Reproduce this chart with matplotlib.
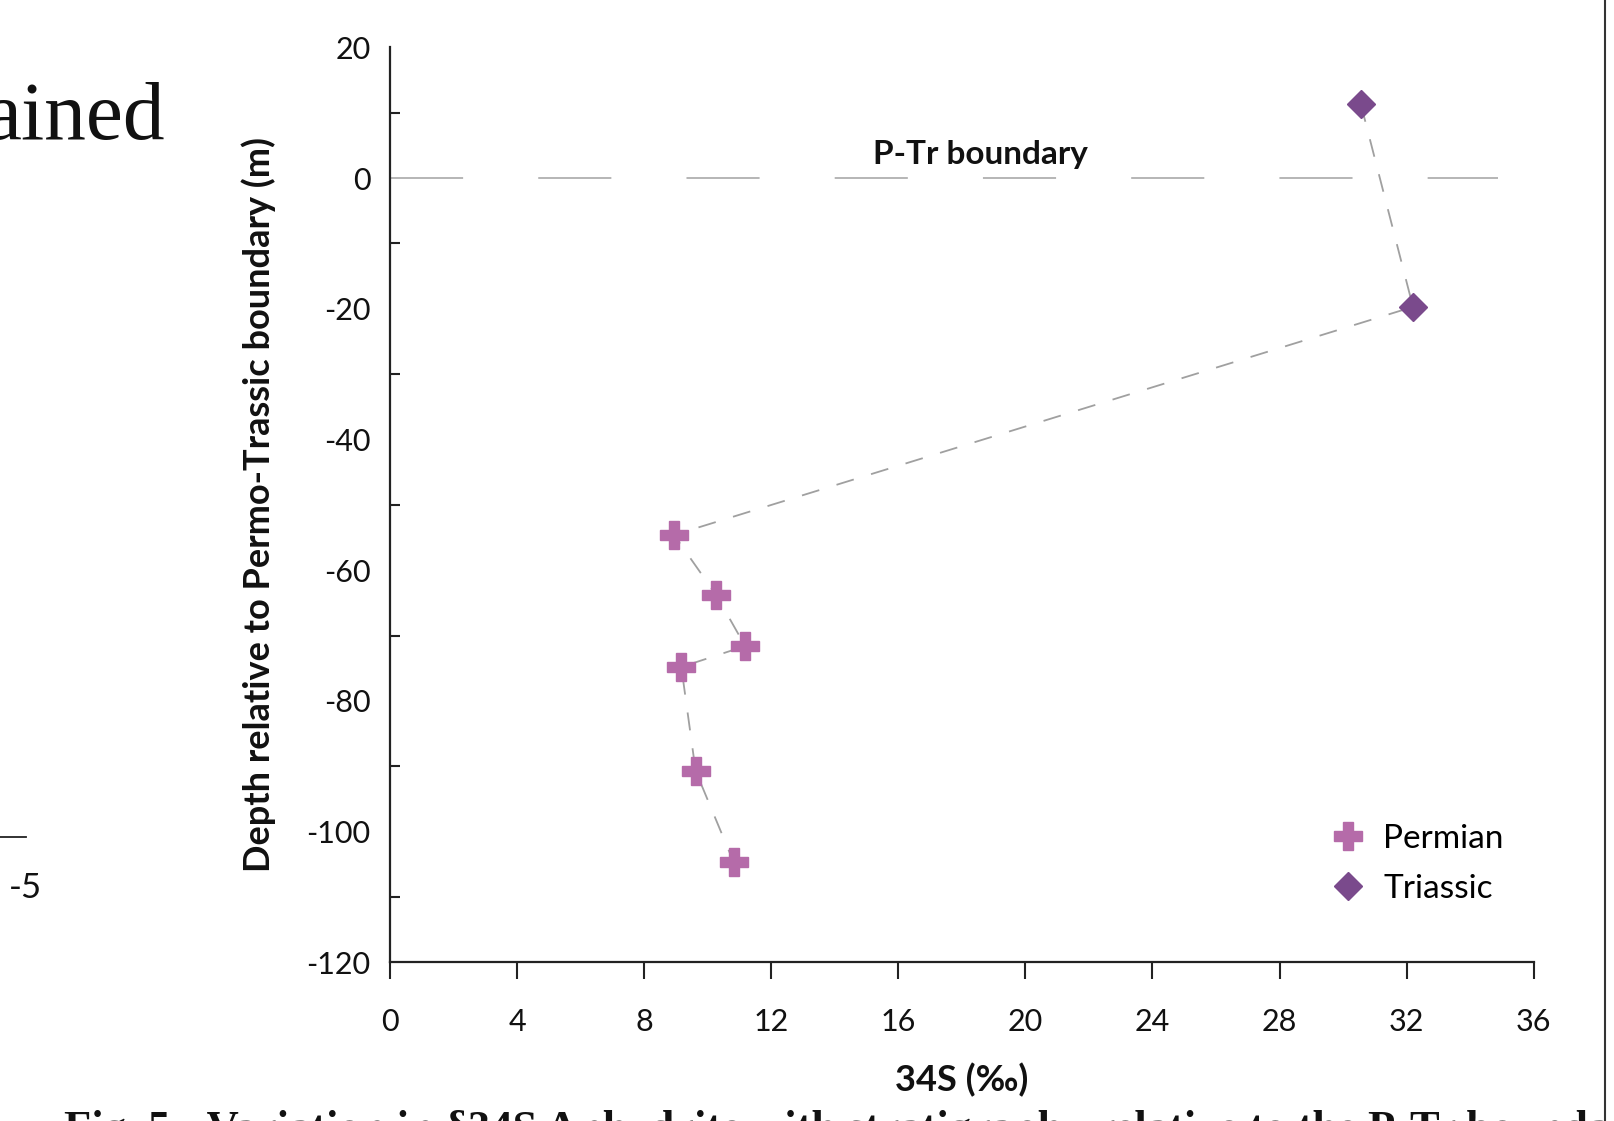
import matplotlib
matplotlib.use("Agg")
import matplotlib.pyplot as plt
from matplotlib.ticker import FixedLocator

plt.rcParams["axes.unicode_minus"] = False

# ---- data ----
permian_d34s = [8.94, 10.27, 11.18, 9.17, 9.62, 10.82]
permian_depth = [-54.6, -63.8, -71.6, -74.8, -90.7, -104.7]
triassic_d34s = [30.56, 32.2]
triassic_depth = [11.3, -19.7]
boundary_depth = 0
boundary_x = [0, 34.87]
x_ticks = [0, 4, 8, 12, 16, 20, 24, 28, 32, 36]
y_ticks = [-120, -100, -80, -60, -40, -20, 0, 20]

W, H = 1614, 1121
fig = plt.figure(figsize=(W / 100, H / 100), dpi=100)
fig.patch.set_facecolor("white")

FONT = "Lato"
ax = fig.add_axes([390 / W, 1 - 962.4 / H, (1533.7 - 390) / W, (962.4 - 47.4) / H])

# connecting line (Triassic top to Permian bottom)
line_x = triassic_d34s + permian_d34s
line_y = triassic_depth + permian_depth
ax.plot(line_x, line_y, color="#a0a0a0", lw=1.3, dashes=(10, 10), zorder=2)

# boundary line
bl, = ax.plot(boundary_x, [boundary_depth] * 2, color="#b0b0b0", lw=1.3, zorder=1)
bl.set_dashes((40.5, 41.6))
ax.text(18.57, 3.6, "P-Tr boundary", ha="center", va="center", fontsize=24,
        fontweight="bold", family=FONT, color="#111111")

ax.plot(permian_d34s, permian_depth, linestyle="none", marker="P", ms=20,
        color="#b56ba9", mec="#b56ba9", label="Permian", zorder=3)
ax.plot(triassic_d34s, triassic_depth, linestyle="none", marker="D", ms=14.5,
        color="#7a4a8c", mec="#7a4a8c", label="Triassic", zorder=3)

ax.set_xlim(0, 36)
ax.set_ylim(-120, 20)
ax.xaxis.set_major_locator(FixedLocator(x_ticks))
ax.yaxis.set_major_locator(FixedLocator(y_ticks))
ax.yaxis.set_minor_locator(FixedLocator([-110, -90, -70, -50, -30, -10, 10]))

for s in ["top", "right"]:
    ax.spines[s].set_visible(False)
for s in ["left", "bottom"]:
    ax.spines[s].set_color("#222222")
    ax.spines[s].set_linewidth(1.6)

ax.tick_params(axis="x", which="major", direction="out", length=12.5, width=1.5,
               color="#222222", labelsize=22, pad=20)
ax.tick_params(axis="y", which="major", length=0, labelsize=22, pad=14)
ax.tick_params(axis="y", which="minor", direction="in", length=7, width=1.5,
               color="#222222")
for lab in ax.get_xticklabels() + ax.get_yticklabels():
    lab.set_family(FONT)
    lab.set_color("#111111")

ax.set_xlabel("34S (‰)", fontsize=26, fontweight="bold", family=FONT,
              labelpad=20, color="#111111")
ax.set_ylabel("Depth relative to Permo-Trassic boundary (m)", fontsize=26,
              fontweight="bold", family=FONT, labelpad=22, color="#111111")

leg = ax.legend(loc="upper left", bbox_to_anchor=(1331 / W, 1 - 823.5 / H),
                bbox_transform=fig.transFigure, frameon=False,
                prop={"family": FONT, "size": 24}, handlelength=1.0,
                handletextpad=0.56, labelspacing=0.6, borderpad=0,
                borderaxespad=0)

# fragments of the surrounding page
fig.text(165 / W, 1 - 139 / H, "ained", ha="right", va="baseline",
         family="Liberation Serif", fontsize=60, color="#111111")
fig.add_artist(plt.Line2D([0, 26 / W], [1 - 837 / H] * 2, color="#222222",
                          lw=1.3, transform=fig.transFigure))
fig.text(25 / W, 1 - 888 / H, "-5", ha="center", va="center",
         family=FONT, fontsize=25, color="#111111")
fig.text(64 / W, 1 - 1110 / H,
         "Fig. 5 - Variation in δ34S Anhydrite with stratigraphy relative to the P-Tr boundary",
         ha="left", va="top", family="Liberation Serif", fontweight="bold",
         fontsize=32, color="#111111")
fig.add_artist(plt.Line2D([1605 / W] * 2, [0, 1], color="#333333", lw=1.5,
                          transform=fig.transFigure))

fig.savefig("out.png", dpi=100, facecolor="white")
